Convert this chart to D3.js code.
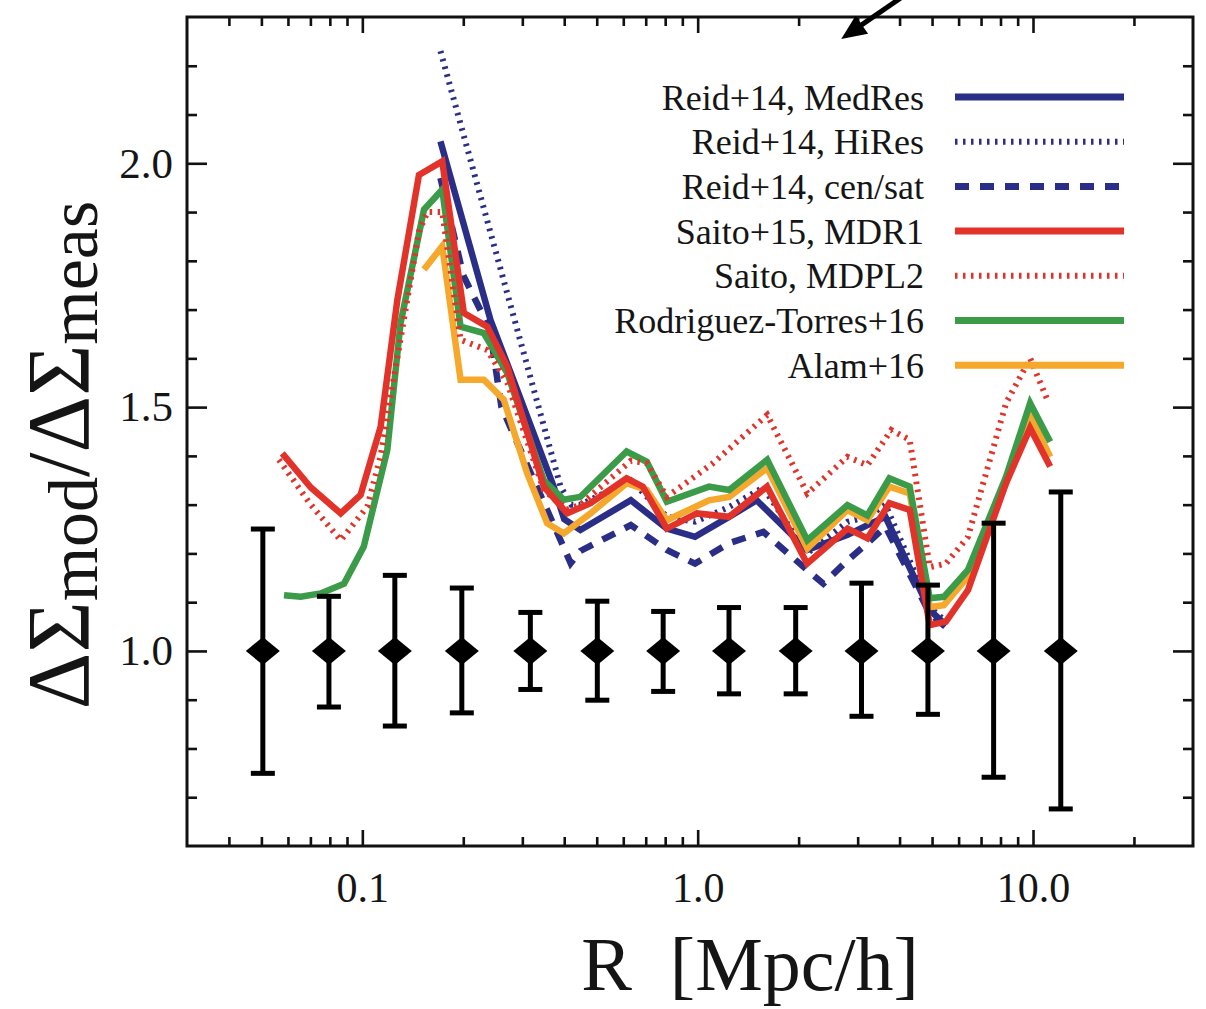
<!DOCTYPE html>
<html>
<head>
<meta charset="utf-8">
<script src="https://cdn.jsdelivr.net/npm/d3@7"></script>
<style>
  body { margin: 0; background: #fff; }
  text { font-family: 'Liberation Serif', 'Times New Roman', serif; fill: #151515; }
</style>
</head>
<body>
<div class="canvas"></div>
<script>
//measured points (ratio = 1 by construction)
const measR = [0.0505, 0.0795, 0.125, 0.198, 0.317, 0.502, 0.789, 1.24, 1.96, 3.08, 4.86, 7.63, 12.1];
const measHi = [1.25, 1.112, 1.155, 1.129, 1.079, 1.102, 1.081, 1.089, 1.089, 1.139, 1.135, 1.262, 1.326];
const measLo = [0.749, 0.885, 0.846, 0.873, 0.921, 0.899, 0.917, 0.912, 0.912, 0.866, 0.87, 0.741, 0.676];

//Reid+14, MedRes
const medResR = [0.171, 0.241, 0.277, 0.372, 0.4, 0.447, 0.632, 0.809, 0.982, 1.24, 1.5, 2.12, 2.8, 3.21, 3.63, 4.92, 5.5];
const medResV = [2.045, 1.679, 1.57, 1.337, 1.27, 1.248, 1.309, 1.251, 1.234, 1.275, 1.309, 1.207, 1.238, 1.258, 1.275, 1.084, 1.053];

//Reid+14, HiRes
const hiResR = [0.171, 0.39, 0.42, 0.447, 0.632, 0.809, 0.982, 1.24, 1.57, 2.12, 2.8, 3.21, 3.63, 4.92, 5.5];
const hiResV = [2.23, 1.337, 1.3, 1.3, 1.35, 1.275, 1.265, 1.295, 1.335, 1.2, 1.265, 1.275, 1.3, 1.09, 1.06];

//Reid+14, cen/sat
const cenSatR = [0.171, 0.2, 0.24, 0.26, 0.39, 0.418, 0.447, 0.632, 0.809, 0.982, 1.24, 1.57, 2.12, 2.37, 2.8, 3.21, 3.63, 4.92, 5.5];
const cenSatV = [1.97, 1.77, 1.66, 1.5, 1.227, 1.18, 1.205, 1.258, 1.207, 1.179, 1.221, 1.244, 1.166, 1.138, 1.186, 1.221, 1.255, 1.077, 1.049];

//Saito+15, MDR1
const mdr1R = [0.0577, 0.0702, 0.0862, 0.0988, 0.1134, 0.1272, 0.1475, 0.1731, 0.2008, 0.2358, 0.2705, 0.3477, 0.408, 0.479, 0.614, 0.686, 0.809, 0.995, 1.24, 1.61, 2.12, 2.8, 3.21, 3.73, 4.29, 4.92, 5.5, 6.4, 8.31, 9.8, 11.25];
const mdr1V = [1.405, 1.335, 1.282, 1.32, 1.46, 1.72, 1.976, 2.004, 1.693, 1.665, 1.583, 1.337, 1.282, 1.303, 1.354, 1.337, 1.251, 1.282, 1.275, 1.337, 1.179, 1.251, 1.231, 1.303, 1.289, 1.053, 1.06, 1.125, 1.344, 1.457, 1.378];

//Saito, MDPL2
const mdpl2R = [0.0564, 0.0702, 0.0862, 0.1035, 0.1134, 0.13, 0.1475, 0.1562, 0.1731, 0.1963, 0.2358, 0.2705, 0.3477, 0.408, 0.447, 0.632, 0.705, 0.809, 1.111, 1.612, 2.123, 2.796, 3.207, 3.781, 4.287, 4.922, 5.497, 6.397, 8.309, 9.804, 11.1];
const mdpl2V = [1.392, 1.3, 1.227, 1.296, 1.4, 1.64, 1.86, 1.9, 1.9, 1.638, 1.617, 1.55, 1.33, 1.29, 1.3, 1.39, 1.385, 1.316, 1.385, 1.484, 1.323, 1.398, 1.381, 1.453, 1.433, 1.172, 1.179, 1.234, 1.508, 1.6, 1.511];

//Rodriguez-Torres+16
const rtR = [0.0584, 0.0655, 0.0751, 0.0882, 0.101, 0.1187, 0.13, 0.1527, 0.1731, 0.1963, 0.2303, 0.2705, 0.3477, 0.399, 0.447, 0.614, 0.705, 0.809, 1.081, 1.241, 1.612, 2.123, 2.796, 3.207, 3.73, 4.287, 4.922, 5.422, 6.397, 8.309, 9.804, 11.25];
const rtV = [1.114, 1.111, 1.118, 1.138, 1.214, 1.412, 1.672, 1.905, 1.946, 1.665, 1.652, 1.57, 1.35, 1.31, 1.316, 1.409, 1.388, 1.306, 1.337, 1.33, 1.392, 1.227, 1.299, 1.278, 1.354, 1.337, 1.108, 1.111, 1.166, 1.357, 1.508, 1.429];

//Alam+16
const alamR = [0.1527, 0.1731, 0.1963, 0.2303, 0.2642, 0.3102, 0.3558, 0.399, 0.479, 0.614, 0.705, 0.809, 1.081, 1.241, 1.612, 2.123, 2.796, 3.207, 3.73, 4.287, 4.922, 5.422, 6.397, 8.309, 9.804, 11.25];
const alamV = [1.782, 1.83, 1.556, 1.556, 1.515, 1.364, 1.262, 1.241, 1.282, 1.344, 1.33, 1.268, 1.309, 1.316, 1.375, 1.21, 1.289, 1.268, 1.337, 1.323, 1.09, 1.094, 1.152, 1.344, 1.484, 1.398];

//axis ticks
const xMajor = [0.1, 1, 10];
const xMinor = [0.04, 0.05, 0.06, 0.07, 0.08, 0.09, 0.2, 0.3, 0.4, 0.5, 0.6, 0.7, 0.8, 0.9, 2, 3, 4, 5, 6, 7, 8, 9, 20];
const yMajor = [1.0, 1.5, 2.0];
const yMinor = [0.7, 0.8, 0.9, 1.1, 1.2, 1.3, 1.4, 1.6, 1.7, 1.8, 1.9, 2.1, 2.2];

//annotation arrow (data coords, start -> tip)
const arrowR = [4.05, 2.68];
const arrowV = [2.34, 2.255];

const legendLabels = ['Reid+14, MedRes', 'Reid+14, HiRes', 'Reid+14, cen/sat', 'Saito+15, MDR1', 'Saito, MDPL2', 'Rodriguez-Torres+16', 'Alam+16'];

const blue = '#2b2e86';
const red = '#e2332a';
const green = '#3b9b48';
const orange = '#f5a82c';

const series = [
  { r: medResR, v: medResV, color: blue, dash: null },
  { r: hiResR, v: hiResV, color: blue, dash: 'dot' },
  { r: cenSatR, v: cenSatV, color: blue, dash: 'dash' },
  { r: mdr1R, v: mdr1V, color: red, dash: null },
  { r: mdpl2R, v: mdpl2V, color: red, dash: 'dot' },
  { r: rtR, v: rtV, color: green, dash: null },
  { r: alamR, v: alamV, color: orange, dash: null },
];
//drawing order (back to front)
const drawOrder = [1, 2, 0, 6, 5, 4, 3];

const dashArray = (d) => (d === 'dot' ? '2.5,5.5' : d === 'dash' ? '14,11' : null);
const strokeW = (d) => (d === 'dot' ? 6 : 6.5);

const margin = { top: 17, right: 13, bottom: 163, left: 187 };
const graphWidth = 1206 - margin.left - margin.right;
const graphHeight = 1009 - margin.top - margin.bottom;

const svg = d3
  .select('.canvas')
  .append('svg')
  .attr('width', 1206)
  .attr('height', 1009);

const graph = svg
  .append('g')
  .attr('transform', `translate(${margin.left}, ${margin.top})`);

//scales
const x = d3.scaleLog().domain([0.03, 30]).range([0, graphWidth]);
const y = d3.scaleLinear().domain([0.6, 2.3]).range([graphHeight, 0]);

//axes
const styleAxis = (g, size) => {
  g.select('.domain').remove();
  g.selectAll('line').attr('stroke', '#111').attr('stroke-width', 2.6);
  g.attr('font-size', size).attr('font-family', 'Liberation Serif, serif');
};

graph
  .append('g')
  .attr('transform', `translate(0, ${graphHeight})`)
  .call(d3.axisBottom(x).tickValues(xMajor).tickSize(-16).tickPadding(26).tickFormat(d3.format('.1f')))
  .call((g) => styleAxis(g, 42));
graph
  .append('g')
  .attr('transform', `translate(0, ${graphHeight})`)
  .call(d3.axisBottom(x).tickValues(xMinor).tickSize(-9).tickFormat(() => ''))
  .call((g) => styleAxis(g, 10));
graph
  .append('g')
  .call(d3.axisTop(x).tickValues(xMajor).tickSize(-16).tickFormat(() => ''))
  .call((g) => styleAxis(g, 10));
graph
  .append('g')
  .call(d3.axisTop(x).tickValues(xMinor).tickSize(-9).tickFormat(() => ''))
  .call((g) => styleAxis(g, 10));

graph
  .append('g')
  .call(d3.axisLeft(y).tickValues(yMajor).tickSize(-20).tickPadding(14).tickFormat(d3.format('.1f')))
  .call((g) => styleAxis(g, 43));
graph
  .append('g')
  .call(d3.axisLeft(y).tickValues(yMinor).tickSize(-10).tickFormat(() => ''))
  .call((g) => styleAxis(g, 10));
graph
  .append('g')
  .attr('transform', `translate(${graphWidth}, 0)`)
  .call(d3.axisRight(y).tickValues(yMajor).tickSize(-20).tickFormat(() => ''))
  .call((g) => styleAxis(g, 10));
graph
  .append('g')
  .attr('transform', `translate(${graphWidth}, 0)`)
  .call(d3.axisRight(y).tickValues(yMinor).tickSize(-10).tickFormat(() => ''))
  .call((g) => styleAxis(g, 10));

//frame
graph
  .append('rect')
  .attr('width', graphWidth)
  .attr('height', graphHeight)
  .attr('fill', 'none')
  .attr('stroke', '#111')
  .attr('stroke-width', 3);

//model lines
const line = d3
  .line()
  .x((d) => x(d[0]))
  .y((d) => y(d[1]));

drawOrder.forEach((i) => {
  const s = series[i];
  graph
    .append('path')
    .datum(d3.zip(s.r, s.v))
    .attr('fill', 'none')
    .attr('stroke', s.color)
    .attr('stroke-width', strokeW(s.dash))
    .attr('stroke-dasharray', dashArray(s.dash))
    .attr('stroke-linejoin', 'miter')
    .attr('d', line);
});

//error bars
const meas = measR.map((r, i) => ({ r: r, hi: measHi[i], lo: measLo[i] }));
const bars = graph.selectAll('.bar').data(meas).enter().append('g').attr('class', 'bar');

bars
  .append('line')
  .attr('x1', (d) => x(d.r))
  .attr('x2', (d) => x(d.r))
  .attr('y1', (d) => y(d.lo))
  .attr('y2', (d) => y(d.hi))
  .attr('stroke', '#000')
  .attr('stroke-width', 5);

['lo', 'hi'].forEach((k) => {
  bars
    .append('line')
    .attr('x1', (d) => x(d.r) - 12)
    .attr('x2', (d) => x(d.r) + 12)
    .attr('y1', (d) => y(d[k]))
    .attr('y2', (d) => y(d[k]))
    .attr('stroke', '#000')
    .attr('stroke-width', 5);
});

bars
  .append('path')
  .attr('transform', (d) => `translate(${x(d.r)}, ${y(1)})`)
  .attr('d', 'M0,-14L17,0L0,14L-17,0Z')
  .attr('fill', '#000');

//legend
const legend = graph.append('g').attr('transform', 'translate(0, 80)');
const rows = legend
  .selectAll('g')
  .data(legendLabels)
  .enter()
  .append('g')
  .attr('transform', (d, i) => `translate(0, ${i * 44.7})`);

rows
  .append('text')
  .attr('x', 737)
  .attr('dy', '0.35em')
  .attr('text-anchor', 'end')
  .attr('font-size', 36)
  .text((d) => d);

rows
  .append('line')
  .attr('x1', 768)
  .attr('x2', 937)
  .attr('stroke', (d, i) => series[i].color)
  .attr('stroke-width', (d, i) => (series[i].dash === 'dot' ? 6 : 7))
  .attr('stroke-dasharray', (d, i) => dashArray(series[i].dash));

//arrow annotation
const a0 = [x(arrowR[0]), y(arrowV[0])];
const a1 = [x(arrowR[1]), y(arrowV[1])];
const ang = (Math.atan2(a1[1] - a0[1], a1[0] - a0[0]) * 180) / Math.PI;
graph
  .append('line')
  .attr('x1', a0[0])
  .attr('y1', a0[1])
  .attr('x2', a1[0] + (a0[0] - a1[0]) * 0.2)
  .attr('y2', a1[1] + (a0[1] - a1[1]) * 0.2)
  .attr('stroke', '#000')
  .attr('stroke-width', 5);
graph
  .append('path')
  .attr('transform', `translate(${a1[0]}, ${a1[1]}) rotate(${ang})`)
  .attr('d', 'M0,0L-25,-11L-25,11Z')
  .attr('fill', '#000');

//axis titles
svg
  .append('text')
  .attr('x', 750)
  .attr('y', 990)
  .attr('text-anchor', 'middle')
  .attr('font-size', 76)
  .text('R\u00a0\u00a0[Mpc/h]');

const yTitle = svg
  .append('text')
  .attr('transform', 'translate(88, 455) rotate(-90)')
  .attr('text-anchor', 'middle')
  .attr('font-size', 88);
yTitle.append('tspan').text('ΔΣ');
yTitle.append('tspan').attr('font-size', 70).attr('dy', 9).text('mod');
yTitle.append('tspan').attr('dy', -9).text('/ΔΣ');
yTitle.append('tspan').attr('font-size', 70).attr('dy', 9).text('meas');
</script>
</body>
</html>
